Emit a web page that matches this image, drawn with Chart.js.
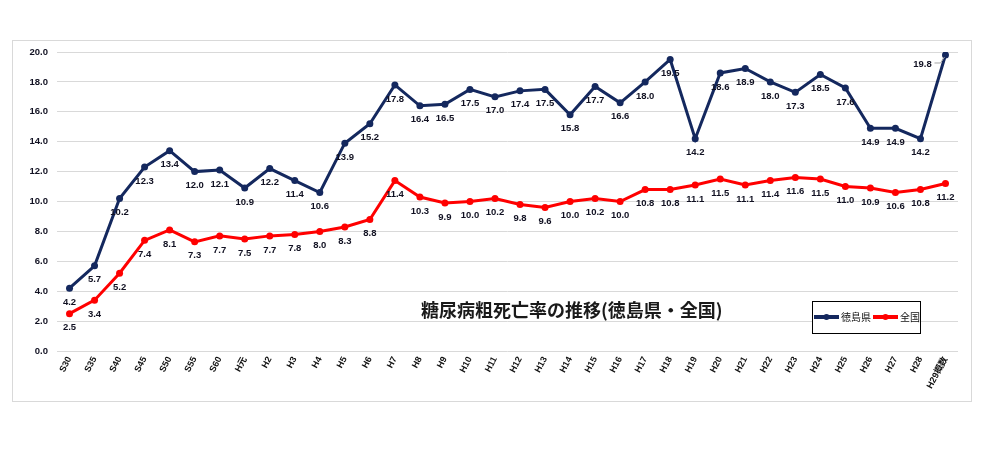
<!DOCTYPE html>
<html>
<head>
<meta charset="utf-8">
<script src="https://cdn.jsdelivr.net/npm/chart.js@4"></script>
<style>
  html, body { margin: 0; padding: 0; background: #ffffff; }
  #wrap { position: relative; width: 989px; height: 460px; }
  #frame { position: absolute; left: 12px; top: 40px; width: 960px; height: 362px; border: 1px solid #d9d9d9; box-sizing: border-box; }
  canvas { position: absolute; left: 0; top: 0; }
</style>
</head>
<body>
<div id="wrap">
  <div id="frame"></div>
  <canvas id="c" width="989" height="460"></canvas>
</div>
<script>
const categories = ['S30','S35','S40','S45','S50','S55','S60','H元','H2','H3','H4','H5','H6','H7','H8','H9','H10','H11','H12','H13','H14','H15','H16','H17','H18','H19','H20','H21','H22','H23','H24','H25','H26','H27','H28','H29概数'];
const tokushima = [4.2,5.7,10.2,12.3,13.4,12.0,12.1,10.9,12.2,11.4,10.6,13.9,15.2,17.8,16.4,16.5,17.5,17.0,17.4,17.5,15.8,17.7,16.6,18.0,19.5,14.2,18.6,18.9,18.0,17.3,18.5,17.6,14.9,14.9,14.2,19.8];
const national = [2.5,3.4,5.2,7.4,8.1,7.3,7.7,7.5,7.7,7.8,8.0,8.3,8.8,11.4,10.3,9.9,10.0,10.2,9.8,9.6,10.0,10.2,10.0,10.8,10.8,11.1,11.5,11.1,11.4,11.6,11.5,11.0,10.9,10.6,10.8,11.2];
const seriesNames = ['徳島県','全国'];
const chartTitle = '糖尿病粗死亡率の推移(徳島県・全国)';
const yTicks = { min: 0, max: 20, step: 2 };

const NAVY = '#14285e';
const RED = '#ff0000';
const LABEL_FONT = 'bold 9.5px "Liberation Sans", Arial, sans-serif';

const overlayPlugin = {
  id: 'overlay',
  afterDatasetsDraw(chart) {
    const ctx = chart.ctx;
    ctx.save();
    ctx.font = LABEL_FONT;
    ctx.fillStyle = '#111122';
    ctx.textAlign = 'center';
    ctx.textBaseline = 'middle';
    chart.data.datasets.forEach((ds, di) => {
      const meta = chart.getDatasetMeta(di);
      meta.data.forEach((pt, i) => {
        const txt = ds.data[i].toFixed(1);
        if (di === 0 && i === ds.data.length - 1) {
          const lx = pt.x - 23, ly = pt.y + 9;
          ctx.strokeStyle = '#a6a6a6';
          ctx.lineWidth = 1;
          ctx.beginPath();
          ctx.moveTo(lx + 12, ly - 1);
          ctx.lineTo(pt.x - 5, ly - 1);
          ctx.lineTo(pt.x - 1, pt.y + 2);
          ctx.stroke();
          ctx.fillText(txt, lx, ly);
        } else {
          ctx.fillText(txt, pt.x, pt.y + 14);
        }
      });
    });
    // title inside plot area
    ctx.font = 'bold 18px "Noto Sans CJK JP", sans-serif';
    ctx.fillStyle = '#1a1a1a';
    ctx.textAlign = 'left';
    ctx.fillText(chartTitle, 421, 310);
    // legend box
    const bx = 812, by = 301, bw = 108, bh = 32;
    ctx.fillStyle = '#ffffff';
    ctx.fillRect(bx, by, bw, bh);
    const ly = 317;
    const items = [[814, NAVY, seriesNames[0]], [873, RED, seriesNames[1]]];
    ctx.font = '10px "Noto Sans CJK JP", sans-serif';
    items.forEach(([x, col, name]) => {
      ctx.strokeStyle = col;
      ctx.lineWidth = 4;
      ctx.beginPath();
      ctx.moveTo(x, ly);
      ctx.lineTo(x + 25, ly);
      ctx.stroke();
      ctx.fillStyle = col;
      ctx.beginPath();
      ctx.arc(x + 12.5, ly, 3, 0, Math.PI * 2);
      ctx.fill();
      ctx.fillStyle = '#111111';
      ctx.textAlign = 'left';
      ctx.fillText(name, x + 27, ly);
    });
    ctx.strokeStyle = '#000000';
    ctx.lineWidth = 1;
    ctx.strokeRect(bx + 0.5, by + 0.5, bw, bh);
    ctx.restore();
  }
};

new Chart(document.getElementById('c'), {
  type: 'line',
  data: {
    labels: categories,
    datasets: [
      { label: seriesNames[0], data: tokushima, borderColor: NAVY, backgroundColor: NAVY, borderWidth: 3, pointRadius: 3.5, pointBackgroundColor: NAVY, pointBorderWidth: 0, tension: 0 },
      { label: seriesNames[1], data: national, borderColor: RED, backgroundColor: RED, borderWidth: 3, pointRadius: 3.5, pointBackgroundColor: RED, pointBorderWidth: 0, tension: 0 }
    ]
  },
  options: {
    responsive: false,
    animation: false,
    devicePixelRatio: 1,
    layout: { padding: { left: 0, right: 31, top: 52, bottom: 0 } },
    plugins: { legend: { display: false }, title: { display: false }, tooltip: { enabled: false } },
    scales: {
      x: {
        offset: true,
        grid: { display: false, drawTicks: false },
        border: { display: false },
        ticks: {
          autoSkip: false, maxRotation: 62, minRotation: 62, padding: 4,
          color: '#111111', font: { family: '"Liberation Sans", "Noto Sans CJK JP", sans-serif', size: 9, weight: 'bold' }
        },
        afterFit(s) { s.height = 109; }
      },
      y: {
        min: yTicks.min, max: yTicks.max,
        grid: { color: '#d9d9d9', lineWidth: 1, drawTicks: false },
        border: { display: false },
        ticks: {
          stepSize: yTicks.step, padding: 9,
          color: '#111122', font: { family: '"Liberation Sans", sans-serif', size: 9.5, weight: 'bold' },
          callback: v => Number(v).toFixed(1)
        },
        afterFit(s) { s.width = 57; }
      }
    }
  },
  plugins: [overlayPlugin]
});
</script>
</body>
</html>
